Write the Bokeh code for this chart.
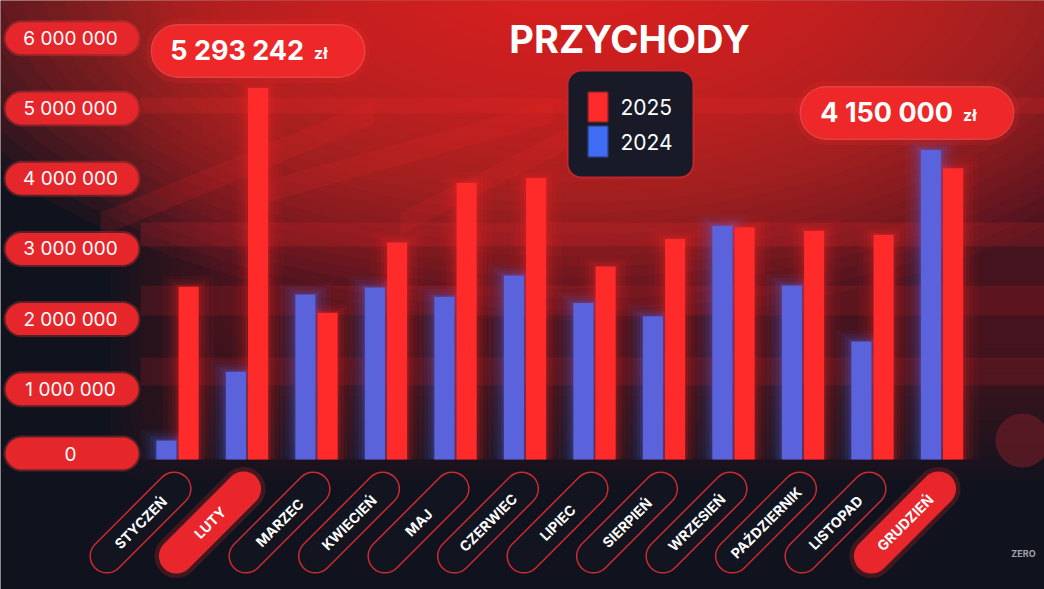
import numpy as np
from bokeh.plotting import figure
from bokeh.models import Range1d
from bokeh.core.properties import value
from bokeh.embed import file_html
from bokeh.resources import INLINE

# ---------------- data ----------------
months = ["STYCZEŃ", "LUTY", "MARZEC", "KWIECIEŃ", "MAJ", "CZERWIEC",
          "LIPIEC", "SIERPIEŃ", "WRZESIEŃ", "PAŹDZIERNIK", "LISTOPAD", "GRUDZIEŃ"]
rev_2024 = [270000, 1250000, 2350000, 2450000, 2320000, 2620000,
            2230000, 2040000, 3330000, 2480000, 1680000, 4410000]
rev_2025 = [2460000, 5293242, 2090000, 3090000, 3940000, 4010000,
            2750000, 3140000, 3310000, 3260000, 3200000, 4150000]
y_ticks = [0, 1000000, 2000000, 3000000, 4000000, 5000000, 6000000]
series_names = ["2025", "2024"]
title_text = "PRZYCHODY"
highlight_months = ["LUTY", "GRUDZIEŃ"]
currency = "zł"

# ---------------- geometry (screen mapping) ----------------
W, H = 1044, 589
CAT_PX = 69.5        # px per category
CAT0_REF = 177.0     # px position of first category
Y0_REF = 459.0       # px position of value 0
PX_PER_M = 70.2      # px per 1 000 000

def dx(rx):
    return (rx - CAT0_REF) / CAT_PX

def dy(ry):
    return (Y0_REF - ry) / PX_PER_M * 1e6

def px_x(n):
    return n / CAT_PX

def px_y(n):
    return n / PX_PER_M * 1e6

BG = "#10131d"
RED = "#ff2b2b"
BLUE = "#5a63dc"
FONT = value("Inter")

p = figure(width=W, height=H, x_range=Range1d(dx(0), dx(W)),
           y_range=Range1d(dy(H), dy(0)),
           x_axis_type=None, y_axis_type=None,
           toolbar_location=None, output_backend="svg",
           background_fill_color=BG, border_fill_color=BG, min_border=0)
p.grid.visible = False
p.outline_line_color = None

# ---------------- background glow ----------------
# soft haze over the plotting region
for k in range(12):
    p.quad(left=dx(110 + 10 * k), right=dx(1100), top=dy(-60), bottom=dy(480 - 12 * k),
           fill_color="#b81c2c", fill_alpha=0.03, line_color=None, border_radius=40)
# bright top glow
N = 30
for k in range(N):
    f = k / N
    p.ellipse(x=dx(570), y=dy(-40), width=1250 * (1 - f) + 150, height=640 * (1 - f) + 80,
              width_units="screen", height_units="screen",
              fill_color="#f42a2a", fill_alpha=0.065, line_color=None)

# horizontal bands
for left, top, bot, a in [(140, 97, 113, 0.16), (140, 222, 246, 0.16),
                          (140, 285, 315, 0.13), (140, 357, 385, 0.12)]:
    p.quad(left=dx(left), right=dx(1060), top=dy(top), bottom=dy(bot),
           fill_color="#ff2a2a", fill_alpha=a, line_color=None)
# diagonal stripes
for (ax, ay, bx, by, t) in [(100, 212, 373, 100, 24), (266, 180, 553, 100, 22),
                            (400, 212, 566, 128, 22)]:
    p.patch(x=[dx(ax), dx(bx), dx(bx), dx(ax)],
            y=[dy(ay), dy(by), dy(by + t), dy(ay + t)],
            fill_color="#ff2a2a", fill_alpha=0.13, line_color=None)

# decorative circle
p.scatter(x=[dx(1022)], y=[dy(440)], size=54, marker="circle",
          fill_color="#6a1c26", fill_alpha=0.7, line_color=None)

# ---------------- bars ----------------
xs = np.arange(len(months))
bw = 0.29
off = 0.16
for extra, a in [(0.45, 0.05), (0.3, 0.07), (0.18, 0.1), (0.08, 0.15)]:
    p.vbar(x=xs - off, top=np.array(rev_2024) + px_y(extra * 25), width=bw + extra,
           fill_color="#5a6cff", fill_alpha=a, line_color=None)
    p.vbar(x=xs + off, top=np.array(rev_2025) + px_y(extra * 25), width=bw + extra,
           fill_color=RED, fill_alpha=a, line_color=None)
p.vbar(x=xs - off, top=rev_2024, width=bw, fill_color=BLUE, line_color=None)
p.vbar(x=xs + off, top=rev_2025, width=bw, fill_color=RED, line_color=None)

# ---------------- y tick pills ----------------
pill_y = [max(t, px_y(6)) for t in y_ticks]
p.segment(x0=[dx(21)] * len(y_ticks), x1=[dx(122)] * len(y_ticks),
          y0=pill_y, y1=pill_y, line_width=36, line_cap="round",
          line_color="#ff4040", line_alpha=0.3)
p.segment(x0=[dx(21)] * len(y_ticks), x1=[dx(122)] * len(y_ticks),
          y0=pill_y, y1=pill_y, line_width=32, line_cap="round",
          line_color="#e5262b")
p.text(x=[dx(70)] * len(y_ticks), y=pill_y,
       text=[f"{t:,}".replace(",", " ") for t in y_ticks],
       text_align="center", text_baseline="middle", text_color="white",
       text_font=FONT, text_font_size="19px")

# ---------------- x label pills ----------------
cx = xs - px_x(37)
cy = np.full(len(months), dy(522))
hx, hy = px_x(33.6), px_y(33.6)
hl = np.array([m in highlight_months for m in months])
p.segment(x0=cx[~hl] - hx, y0=cy[~hl] - hy, x1=cx[~hl] + hx, y1=cy[~hl] + hy,
          line_width=35, line_cap="round", line_color="#cf2a30")
p.segment(x0=cx[~hl] - hx, y0=cy[~hl] - hy, x1=cx[~hl] + hx, y1=cy[~hl] + hy,
          line_width=32, line_cap="round", line_color="#12151f")
p.segment(x0=cx[hl] - hx, y0=cy[hl] - hy, x1=cx[hl] + hx, y1=cy[hl] + hy,
          line_width=44, line_cap="round", line_color=RED, line_alpha=0.2)
p.segment(x0=cx[hl] - hx, y0=cy[hl] - hy, x1=cx[hl] + hx, y1=cy[hl] + hy,
          line_width=35, line_cap="round", line_color="#e8262b")
p.text(x=cx, y=cy, text=months, angle=np.pi / 4,
       text_align="center", text_baseline="middle", text_color="white",
       text_font=FONT, text_font_size="14px", text_font_style="bold")

# ---------------- legend ----------------
p.quad(left=dx(567), right=dx(693), top=dy(70), bottom=dy(177),
       fill_color="#181a27", line_color="#c0262d", line_width=2, border_radius=14)
for (t, b, col, lab, ty) in [(92, 121, RED, series_names[0], 106),
                             (126, 156, "#3f6cf5", series_names[1], 141)]:
    p.quad(left=dx(588), right=dx(607), top=dy(t), bottom=dy(b),
           fill_color=col, line_color=col, line_alpha=0.3, line_width=3)
    p.text(x=[dx(620)], y=[dy(ty)], text=[lab], text_align="left",
           text_baseline="middle", text_color="white", text_font=FONT,
           text_font_size="21px", text_font_style="normal")

# ---------------- callouts ----------------
half = px_x(80.5)
right_lim = dx(1013) - half - px_x(26)
for m in highlight_months:
    i = months.index(m)
    v = rev_2025[i]
    top = max(rev_2025[i], rev_2024[i])
    ccx = min(i + off, right_lim)
    ccy = top + px_y(37)
    p.segment(x0=[ccx - half], x1=[ccx + half], y0=[ccy], y1=[ccy],
              line_width=64, line_cap="round", line_color=RED, line_alpha=0.15)
    p.segment(x0=[ccx - half], x1=[ccx + half], y0=[ccy], y1=[ccy],
              line_width=54, line_cap="round", line_color="#ff5a5a", line_alpha=0.6)
    p.segment(x0=[ccx - half], x1=[ccx + half], y0=[ccy], y1=[ccy],
              line_width=51, line_cap="round", line_color="#ee2729")
    p.text(x=[ccx + px_x(46)], y=[ccy], text=[f"{v:,}".replace(",", " ")],
           text_align="right", text_baseline="middle", text_color="white",
           text_font=FONT, text_font_size="27px", text_font_style="bold")
    p.text(x=[ccx + px_x(56)], y=[ccy - px_y(2)], text=[currency],
           text_align="left", text_baseline="middle", text_color="white",
           text_font=FONT, text_font_size="16px", text_font_style="bold")

# ---------------- title & watermark ----------------
p.text(x=[dx(629)], y=[dy(38)], text=[title_text], text_align="center",
       text_baseline="middle", text_color="white", text_font=FONT,
       text_font_size="38px", text_font_style="bold")
p.text(x=[dx(1023)], y=[dy(553)], text=["ZERO"], text_align="center",
       text_baseline="middle", text_color="#a0a4ae", text_font=FONT,
       text_font_size="9px", text_font_style="bold")

open("out.html", "w").write(file_html(p, INLINE))
